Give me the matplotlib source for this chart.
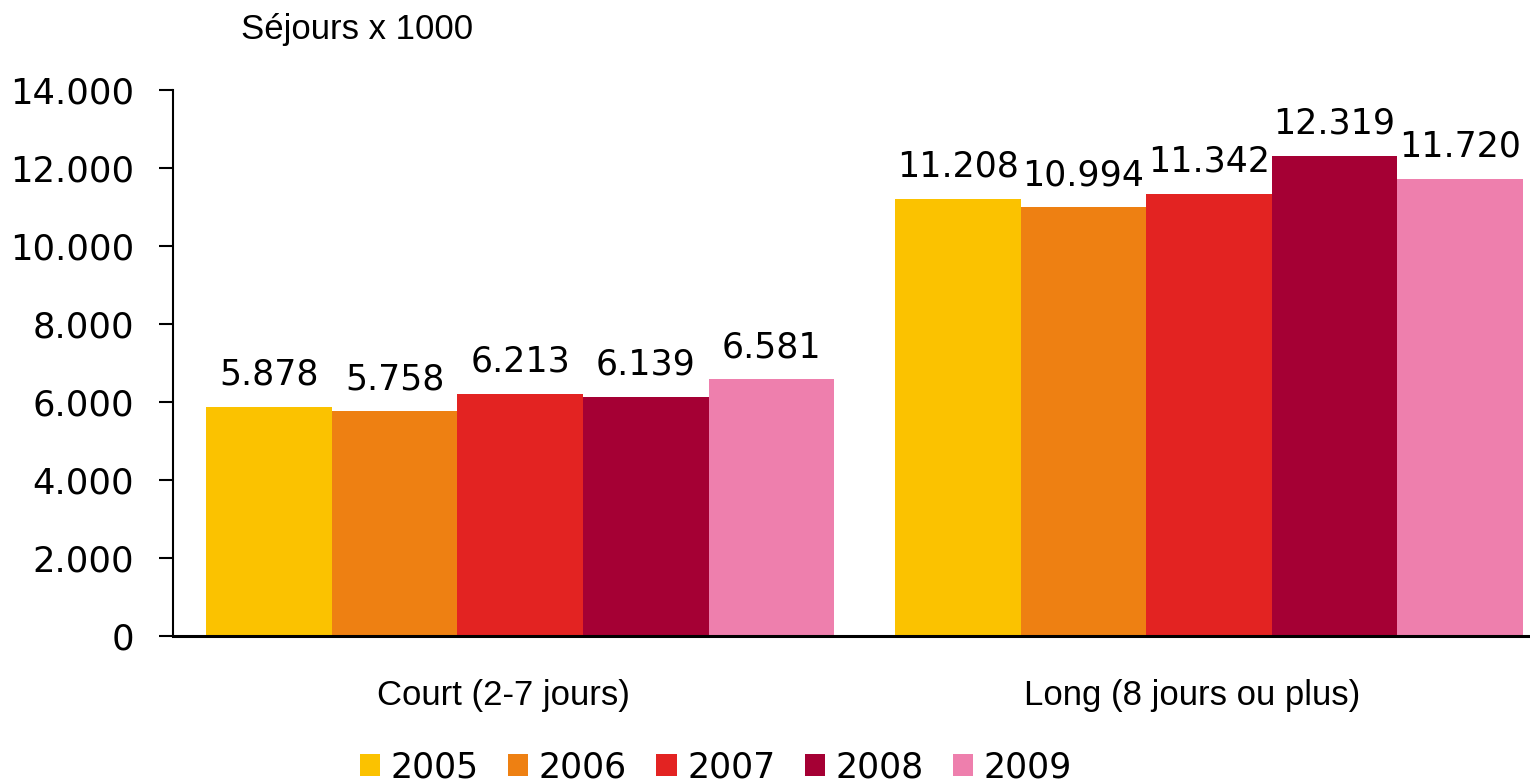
import matplotlib.pyplot as plt
import numpy as np
from matplotlib.ticker import FuncFormatter

# séjours x 1000 par durée et par année
categories = ['Court (2-7 jours)', 'Long (8 jours ou plus)']
years = ['2005', '2006', '2007', '2008', '2009']
values = {
    '2005': [5878, 11208],
    '2006': [5758, 10994],
    '2007': [6213, 11342],
    '2008': [6139, 12319],
    '2009': [6581, 11720],
}
colors = ['#FBC200', '#EE8012', '#E32322', '#A50034', '#EE7FAD']

def fmt(v):
    return f'{v:,.0f}'.replace(',', '.')

fig = plt.figure(figsize=(15.3, 7.84), dpi=100)
ax = fig.add_axes([173/1530, 1-636/784, 1357/1530, 546/784])

x = np.arange(len(categories))
w = 0.1823
for i, y in enumerate(years):
    pos = x + (i - 2) * w
    ax.bar(pos, values[y], width=w, color=colors[i], label=y)
    for xp, v in zip(pos, values[y]):
        ax.annotate(fmt(v), (xp, v), xytext=(0, 16), textcoords='offset points',
                    ha='center', va='baseline', fontsize=25, family='DejaVu Sans')

ax.set_xlim(-0.504, 1.466)
ax.set_ylim(0, 14000)
ax.set_yticks(range(0, 14001, 2000))
ax.yaxis.set_major_formatter(FuncFormatter(lambda v, p: fmt(v)))
ax.tick_params(axis='y', labelsize=25.5, length=10, width=1.5, pad=18, direction='out')
ax.set_xticks(x - 0.025)
ax.set_xticklabels(categories, fontsize=25, family='Liberation Sans')
ax.tick_params(axis='x', length=0, pad=31)
for s in ['top', 'right']:
    ax.spines[s].set_visible(False)
ax.spines['left'].set_linewidth(1.5)
ax.spines['bottom'].set_linewidth(2.2)

fig.text(241/1530, 1-30/784, 'Séjours x 1000', fontsize=25, family='Liberation Sans',
         va='center', ha='left')

fig.legend(loc='center', bbox_to_anchor=(716/1530, 1-767/784), ncol=5, frameon=False,
           prop={'family': 'DejaVu Sans', 'size': 25},
           handlelength=0.58, handleheight=0.58, handletextpad=0.3, columnspacing=0.85,
           borderaxespad=0, borderpad=0)

fig.savefig('out.png', dpi=100)
